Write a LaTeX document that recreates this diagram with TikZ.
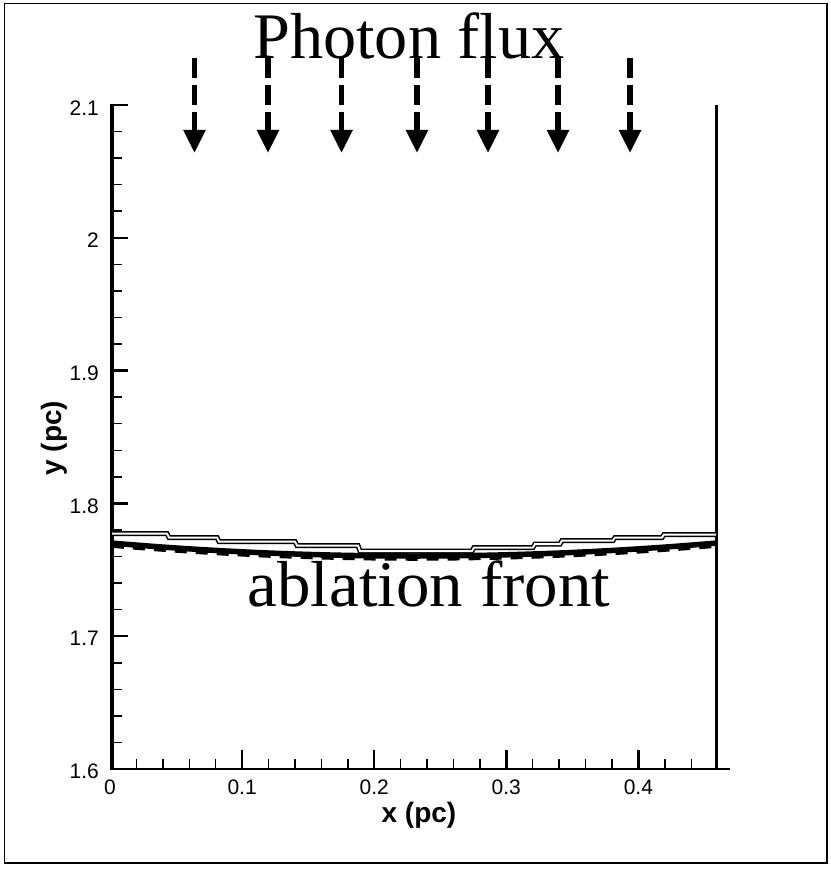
\documentclass[tikz,border=0pt]{standalone}
\usepackage{fontspec}
\setmainfont{Liberation Serif}
\newfontfamily\axfont{Liberation Sans}
\usetikzlibrary{arrows.meta}
\tikzset{
  fluxarrow/.style={line width=5.5pt, dash pattern=on 20pt off 7pt, -{Triangle[width=21pt,length=23pt]}},
  ticklab/.style={font=\axfont\fontsize{21}{21}\selectfont, inner sep=0pt},
  bigtext/.style={font=\fontsize{65}{70}\selectfont, inner sep=0pt, anchor=base},
  axlab/.style={font=\axfont\bfseries\fontsize{28}{28}\selectfont, inner sep=0pt},
  majortick/.style={line width=2.5pt},
  minortick/.style={line width=1.5pt},
  frontthin/.style={line width=1.5pt, double=white, double distance=2pt},
  frontthick/.style={line width=5.5pt},
}
\begin{document}
\begin{tikzpicture}[x=1pt,y=-1pt]
\useasboundingbox (0,0) rectangle (830,869);
% outer frame
\draw[line width=1.6pt] (4.5,3.5) rectangle (827,863);
% axes
\draw[line width=4pt] (112,104) -- (112,770);
\draw[line width=2.5pt] (110,769) -- (730,769);
\draw[line width=3pt] (716.5,105) -- (716.5,769);
% y ticks
\foreach \i in {0,...,24}{
  \pgfmathsetmacro{\yy}{105+\i*26.56}
  \pgfmathtruncatemacro{\m}{mod(\i,5)}
  \ifnum\m=0
    \draw[majortick] (112,\yy) -- (128,\yy);
  \else
    \draw[minortick] (112,\yy) -- (122,\yy);
  \fi
}
% x ticks
\foreach \i in {1,...,23}{
  \pgfmathsetmacro{\xx}{110+\i*26.42}
  \pgfmathtruncatemacro{\m}{mod(\i,5)}
  \ifnum\m=0
    \draw[majortick] (\xx,769) -- (\xx,750);
  \else
    \draw[minortick] (\xx,769) -- (\xx,759);
  \fi
}
% y labels
\node[ticklab, anchor=east] (y21) at (99,108) {2.1};
\node[ticklab, anchor=east] (y20) at (99,240.6) {2};
\node[ticklab, anchor=east] (y19) at (99,373.2) {1.9};
\node[ticklab, anchor=east] (y18) at (99,505.8) {1.8};
\node[ticklab, anchor=east] (y17) at (99,638.4) {1.7};
\node[ticklab, anchor=east] (y16) at (99,771) {1.6};
% x labels
\node[ticklab, anchor=north] (x0) at (110,780) {0};
\node[ticklab, anchor=north] (x1) at (242.1,780) {0.1};
\node[ticklab, anchor=north] (x2) at (374.2,780) {0.2};
\node[ticklab, anchor=north] (x3) at (506.3,780) {0.3};
\node[ticklab, anchor=north] (x4) at (638.4,780) {0.4};
% axis titles
\node[axlab] (xt) at (419,815) {x (pc)};
\node[axlab, rotate=90] (yt) at (54,438) {y (pc)};
% ablation front curves
\draw[frontthick] plot[domain=112:716, samples=80] (\x, {556-13*((\x-414)/303)^2});
\draw[line width=3.5pt, dash pattern=on 12pt off 9pt] plot[domain=112:716, samples=80] (\x, {559-13*((\x-414)/303)^2});
\draw[frontthin] (112,533.5) -- (167,533.5) -- (169,537.5) -- (217,537.5) -- (219,541.5)
  -- (295,541.5) -- (297,545.5) -- (358,545.5) -- (360,551) -- (472,551) -- (474,547.5)
  -- (533,547.5) -- (535,544) -- (560,544) -- (562,540.5) -- (613,540.5) -- (615,537.5)
  -- (662,537.5) -- (664,534.5) -- (716,534.5);
% texts
\node[bigtext, xscale=1.02] (title) at (409,59) {Photon flux};
\node[bigtext, xscale=1.03] (front) at (429,606) {ablation front};
% flux arrows
\foreach \n/\xa in {a/194.5,b/268,c/341.5,d/417,e/488,f/558,g/630}{
  \coordinate (\n s) at (\xa,58);
  \coordinate (\n e) at (\xa,153);
  \draw[fluxarrow] (\n s) -- (\n e);
}
\end{tikzpicture}
\end{document}
